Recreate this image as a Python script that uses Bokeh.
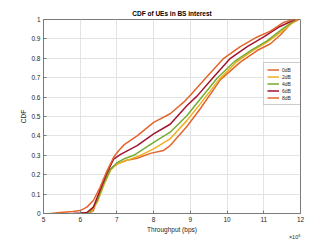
from bokeh.plotting import figure
from bokeh.models import Range1d, FixedTicker, Legend, LegendItem, Title
from bokeh.embed import file_html
from bokeh.resources import INLINE

# Throughput in units of 1e5 bps
x_0dB = [6.2, 6.27, 6.36, 6.45, 6.63, 6.82, 7.0, 7.27, 7.55, 7.91, 8.27, 8.45, 8.91, 9.27, 9.82, 10.36, 10.82, 11.18, 11.45, 11.73, 11.95]
y_0dB = [0, 0.005, 0.015, 0.067, 0.16, 0.23, 0.255, 0.275, 0.285, 0.31, 0.325, 0.35, 0.45, 0.54, 0.69, 0.78, 0.84, 0.875, 0.92, 0.977, 1.0]

x_2dB = [6.15, 6.3, 6.47, 6.65, 6.83, 7.0, 7.3, 7.64, 8.0, 8.45, 8.91, 9.27, 9.78, 10.25, 10.7, 11.1, 11.5, 11.9]
y_2dB = [0, 0.01, 0.06, 0.15, 0.225, 0.255, 0.275, 0.30, 0.333, 0.385, 0.48, 0.565, 0.69, 0.78, 0.84, 0.885, 0.94, 1.0]

x_4dB = [6.1, 6.27, 6.45, 6.63, 6.82, 7.0, 7.2, 7.46, 8.0, 8.45, 8.91, 9.27, 9.73, 10.18, 10.64, 11.09, 11.5, 11.88]
y_4dB = [0, 0.01, 0.06, 0.15, 0.225, 0.262, 0.282, 0.30, 0.367, 0.419, 0.505, 0.59, 0.697, 0.78, 0.84, 0.89, 0.95, 1.0]

x_6dB = [5.8, 6.0, 6.18, 6.36, 6.54, 6.73, 6.91, 7.1, 7.55, 8.0, 8.45, 8.91, 9.18, 9.64, 10.09, 10.55, 11.0, 11.4, 11.85]
y_6dB = [0, 0.002, 0.005, 0.033, 0.12, 0.21, 0.28, 0.305, 0.35, 0.41, 0.46, 0.557, 0.605, 0.705, 0.80, 0.86, 0.91, 0.96, 1.0]

x_8dB = [5.2, 5.46, 5.8, 6.0, 6.18, 6.36, 6.54, 6.73, 6.91, 7.05, 7.2, 7.55, 8.0, 8.45, 8.82, 9.0, 9.45, 9.91, 10.36, 10.82, 11.18, 11.55, 11.82]
y_8dB = [0, 0.005, 0.01, 0.015, 0.033, 0.067, 0.135, 0.22, 0.29, 0.325, 0.355, 0.40, 0.47, 0.514, 0.574, 0.61, 0.705, 0.80, 0.86, 0.91, 0.94, 0.986, 1.0]

series_names = ["0dB", "2dB", "4dB", "6dB", "8dB"]
series_colors = ["#E2652B", "#EDB120", "#77AC30", "#A2142F", "#E2652B"]

x_ticks = [5, 6, 7, 8, 9, 10, 11, 12]
y_ticks = [0, 0.1, 0.2, 0.3, 0.4, 0.5, 0.6, 0.7, 0.8, 0.9, 1.0]
y_tick_labels = ["0", "0.1", "0.2", "0.3", "0.4", "0.5", "0.6", "0.7", "0.8", "0.9", "1"]

FONT = "Liberation Sans"
TXT = "#262626"

p = figure(width=332, height=240, output_backend="svg", toolbar_location=None,
           x_range=Range1d(5, 12), y_range=Range1d(0, 1),
           min_border_left=43, min_border_right=32, min_border_top=19, min_border_bottom=27)
p.background_fill_color = "white"
p.border_fill_color = "white"
p.outline_line_color = "#7a7a7a"
p.outline_line_width = 1

p.title.text = "CDF of UEs in BS interest"
p.title.align = "center"
p.title.text_font = FONT
p.title.text_font_size = "6.5px"
p.title.text_font_style = "bold"
p.title.text_color = "black"
p.title.standoff = 6

for ax in (p.xaxis[0], p.yaxis[0]):
    ax.axis_line_color = "#7a7a7a"
    ax.major_tick_line_color = "#7a7a7a"
    ax.major_tick_in = 3
    ax.major_tick_out = 0
    ax.minor_tick_line_color = None
    ax.major_label_text_font = FONT
    ax.major_label_text_font_size = "6.5px"
    ax.major_label_text_color = TXT
    ax.axis_label_text_font = FONT
    ax.axis_label_text_font_size = "6.5px"
    ax.axis_label_text_font_style = "normal"
    ax.axis_label_text_color = TXT
    ax.major_label_standoff = 3
    ax.axis_label_standoff = 1

p.xaxis.ticker = FixedTicker(ticks=x_ticks)
p.yaxis.ticker = FixedTicker(ticks=y_ticks)
p.yaxis.major_label_overrides = {t: l for t, l in zip(y_ticks, y_tick_labels)}
p.xaxis.axis_label = "Throughput (bps)"
p.yaxis.axis_label = "CDF"

p.xgrid.ticker = FixedTicker(ticks=x_ticks)
p.ygrid.ticker = FixedTicker(ticks=y_ticks)
p.grid.grid_line_color = "#e3e3e3"
p.grid.grid_line_width = 1

xs = [x_0dB, x_2dB, x_4dB, x_6dB, x_8dB]
ys = [y_0dB, y_2dB, y_4dB, y_6dB, y_8dB]
items = []
for name, color, xv, yv in zip(series_names, series_colors, xs, ys):
    r = p.line(xv, yv, line_color=color, line_width=1.5)
    items.append(LegendItem(label=name, renderers=[r]))

legend = Legend(items=items, location=(220, 108))
legend.label_text_font = FONT
legend.label_text_font_size = "5px"
legend.label_text_color = TXT
legend.glyph_width = 12
legend.glyph_height = 7
legend.label_height = 7
legend.label_standoff = 3
legend.spacing = 0
legend.padding = 3
legend.margin = 0
legend.border_line_color = "#9a9a9a"
legend.border_line_width = 1
legend.background_fill_color = "white"
legend.background_fill_alpha = 1
p.add_layout(legend, "center")

exp_title = Title(text="×10⁵", align="right", text_font=FONT, text_font_size="5.5px",
                  text_font_style="normal", text_color=TXT, standoff=-9, offset=0)
p.add_layout(exp_title, "below")

open("out.html", "w").write(file_html(p, INLINE))
